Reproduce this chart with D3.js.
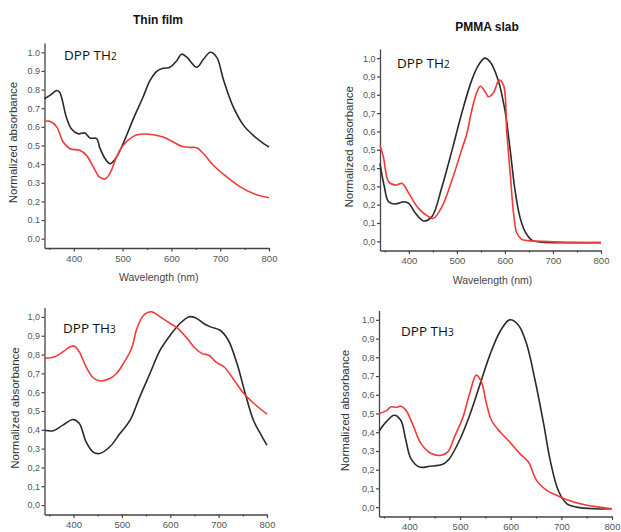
<!DOCTYPE html>
<html><head><meta charset="utf-8">
<script src="https://cdn.jsdelivr.net/npm/d3@7"></script>
<style>body{margin:0;background:#fff}svg{display:block}</style>
</head><body>
<script>
// ---- data ----
const panelTitles = ["Thin film", "PMMA slab"];
const compoundLabels = [["DPP TH", "2"], ["DPP TH", "2"], ["DPP TH", "3"], ["DPP TH", "3"]];
const yTickValues = [0,0.1,0.2,0.3,0.4,0.5,0.6,0.7,0.8,0.9,1.0];
const xMajorTicks = [400,500,600,700,800];
const xMinorTicks = [350,450,550,650,750];

// Thin film, DPP TH2 — [wavelength, abs]
const tfTH2Black = [[340,0.75],[352,0.77],[365,0.795],[371,0.786],[385,0.65],[395,0.59],[409,0.563],[423,0.567],[433,0.54],[447,0.537],[453,0.49],[464,0.43],[474,0.403],[484,0.424],[501,0.51],[522,0.643],[542,0.76],[556,0.848],[570,0.898],[583,0.914],[597,0.92],[611,0.955],[621,0.99],[632,0.973],[652,0.92],[666,0.964],[680,1.0],[693,0.973],[707,0.85],[727,0.706],[748,0.608],[768,0.554],[789,0.51],[800,0.492]];
const tfTH2Red = [[340,0.63],[351,0.63],[365,0.6],[378,0.52],[392,0.483],[412,0.474],[426,0.447],[440,0.385],[453,0.33],[464,0.32],[474,0.35],[488,0.44],[501,0.5],[522,0.549],[536,0.56],[563,0.558],[583,0.545],[604,0.519],[621,0.496],[638,0.49],[652,0.488],[666,0.456],[686,0.394],[714,0.33],[741,0.278],[768,0.242],[800,0.22]];
// PMMA slab, DPP TH2
const pmTH2Black = [[340,0.425],[349,0.298],[358,0.216],[372,0.204],[390,0.216],[400,0.207],[414,0.153],[431,0.111],[448,0.135],[469,0.298],[490,0.498],[510,0.698],[531,0.88],[545,0.962],[558,1.0],[569,0.98],[586,0.88],[600,0.716],[611,0.498],[621,0.28],[631,0.135],[642,0.053],[656,0.007],[677,-0.005],[747,-0.007],[800,-0.007]];
const pmTH2Red = [[340,0.525],[347,0.462],[358,0.325],[372,0.307],[386,0.316],[400,0.262],[420,0.18],[441,0.135],[451,0.125],[469,0.189],[490,0.335],[510,0.5],[521,0.59],[531,0.716],[542,0.816],[549,0.847],[559,0.816],[566,0.789],[576,0.811],[588,0.88],[597,0.853],[604,0.59],[611,0.371],[618,0.153],[625,0.044],[635,0.011],[649,0.004],[677,0.0],[747,-0.007],[800,-0.007]];
// Thin film, DPP TH3
const tfTH3Black = [[340,0.398],[358,0.395],[378,0.425],[399,0.455],[412,0.434],[426,0.336],[440,0.283],[454,0.274],[475,0.31],[496,0.38],[517,0.451],[537,0.575],[558,0.699],[579,0.823],[600,0.903],[620,0.965],[638,1.0],[652,0.996],[669,0.965],[683,0.947],[703,0.929],[720,0.876],[738,0.752],[755,0.593],[772,0.451],[790,0.363],[800,0.319]];
const tfTH3Red = [[340,0.78],[361,0.788],[378,0.814],[392,0.84],[402,0.844],[412,0.814],[426,0.735],[440,0.678],[454,0.66],[475,0.673],[489,0.699],[503,0.752],[520,0.832],[531,0.938],[545,1.009],[562,1.027],[579,1.0],[600,0.965],[614,0.943],[635,0.885],[652,0.832],[666,0.805],[680,0.796],[694,0.761],[711,0.735],[732,0.664],[752,0.593],[773,0.54],[800,0.483]];
// PMMA slab, DPP TH3
const pmTH3Black = [[340,0.405],[354,0.455],[370,0.491],[383,0.464],[393,0.357],[403,0.259],[420,0.214],[440,0.218],[466,0.229],[479,0.259],[499,0.357],[519,0.491],[539,0.652],[559,0.813],[579,0.938],[598,1.0],[615,0.973],[631,0.875],[648,0.679],[665,0.446],[678,0.25],[694,0.089],[711,0.018],[730,0.0],[764,-0.009],[800,-0.009]];
const pmTH3Red = [[340,0.5],[354,0.514],[364,0.536],[374,0.532],[383,0.539],[393,0.518],[406,0.446],[423,0.339],[443,0.286],[463,0.277],[476,0.295],[489,0.375],[506,0.482],[519,0.607],[532,0.705],[542,0.67],[552,0.554],[562,0.464],[579,0.402],[598,0.348],[618,0.286],[635,0.241],[651,0.143],[671,0.089],[691,0.063],[711,0.039],[737,0.018],[764,0.004],[800,-0.009]];

// ---- layout ----
const W = 621, H = 532;
const svg = d3.select("body").append("svg").attr("width", W).attr("height", H);

const panels = [
  {x0:44.5, x1:269, yb:248, yt:43, sep:".", black:tfTH2Black, red:tfTH2Red, xlabel:true, lab:compoundLabels[0], labX:64, labY:60, yl:13},
  {x0:380, x1:601, yb:250.5, yt:49, sep:",", black:pmTH2Black, red:pmTH2Red, xlabel:true, lab:compoundLabels[1], labX:397, labY:68, yl:349},
  {x0:44.5, x1:267, yb:514.5, yt:307.5, sep:",", black:tfTH3Black, red:tfTH3Red, xlabel:false, lab:compoundLabels[2], labX:63, labY:333, yl:15},
  {x0:379, x1:612, yb:516.5, yt:310.5, sep:",", black:pmTH3Black, red:pmTH3Red, xlabel:false, lab:compoundLabels[3], labX:401, labY:336, yl:345}
];

const axisColor = "#444", tickText = "#555";

panels.forEach((p, i) => {
  const x = d3.scaleLinear().domain([340, 800]).range([p.x0, p.x1]);
  const y = d3.scaleLinear().domain([-0.05, 1.05]).range([p.yb, p.yt]);
  const g = svg.append("g");

  // y axis
  const yAxis = d3.axisLeft(y).tickValues(yTickValues).tickSize(3).tickSizeOuter(0)
    .tickFormat(v => d3.format(".1f")(v).replace(".", p.sep));
  const ya = g.append("g").attr("transform", `translate(${p.x0},0)`).call(yAxis);
  ya.select(".domain").attr("stroke", axisColor).attr("stroke-width", 1.3);
  ya.selectAll(".tick line").attr("stroke", axisColor).attr("stroke-width", 1.2);
  ya.selectAll(".tick text").attr("fill", tickText).attr("font-family", "Liberation Sans, Arial, sans-serif").attr("font-size", 9).attr("x", -4.5);

  // x axis
  const xAxis = d3.axisBottom(x).tickValues(xMajorTicks).tickSize(3.5).tickSizeOuter(0).tickFormat(d3.format("d"));
  const xa = g.append("g").attr("transform", `translate(0,${p.yb})`).call(xAxis);
  xa.select(".domain").attr("stroke", axisColor).attr("stroke-width", 1.3);
  xa.selectAll(".tick line").attr("stroke", axisColor).attr("stroke-width", 1.2);
  xa.selectAll(".tick text").attr("fill", tickText).attr("font-family", "Liberation Sans, Arial, sans-serif").attr("font-size", 9.5).attr("y", 7);
  const xm = d3.axisBottom(x).tickValues(xMinorTicks).tickSize(2).tickFormat("");
  const xma = g.append("g").attr("transform", `translate(0,${p.yb})`).call(xm);
  xma.select(".domain").remove();
  xma.selectAll(".tick line").attr("stroke", axisColor).attr("stroke-width", 1.2);

  // y axis title
  g.append("text")
    .attr("transform", `translate(${p.yl},${(p.yt + p.yb) / 2 - 3}) rotate(-90)`)
    .attr("text-anchor", "middle").attr("dominant-baseline", "central")
    .attr("font-family", "Liberation Sans, Arial, sans-serif").attr("font-size", 11.5)
    .attr("fill", "#333").text("Normalized absorbance");

  if (p.xlabel) {
    g.append("text").attr("x", (p.x0 + p.x1) / 2 + 2).attr("y", p.yb + 33)
      .attr("text-anchor", "middle").attr("font-family", "Liberation Sans, Arial, sans-serif")
      .attr("font-size", 10.5).attr("fill", "#444").text("Wavelength (nm)");
  }

  const line = d3.line().x(d => x(d[0])).y(d => y(d[1])).curve(d3.curveCatmullRom.alpha(0.5));
  g.append("path").datum(p.black).attr("d", line).attr("fill", "none").attr("stroke", "#2a2a2a").attr("stroke-width", 1.6);
  g.append("path").datum(p.red).attr("d", line).attr("fill", "none").attr("stroke", "#f23a3a").attr("stroke-width", 1.6);

  const t = g.append("text").attr("x", p.labX).attr("y", p.labY)
    .attr("font-family", "Open Sans, Noto Sans, sans-serif").attr("font-size", 13.5).attr("fill", "#111");
  t.append("tspan").text(p.lab[0]);
  t.append("tspan").attr("font-size", 10).text(p.lab[1]);
});

// titles
svg.append("text").attr("x", 158).attr("y", 24).attr("text-anchor", "middle")
  .attr("font-family", "Liberation Sans, Arial, sans-serif").attr("font-weight", "bold").attr("font-size", 12)
  .attr("fill", "#111").text(panelTitles[0]);
svg.append("text").attr("x", 487).attr("y", 31).attr("text-anchor", "middle")
  .attr("font-family", "Liberation Sans, Arial, sans-serif").attr("font-weight", "bold").attr("font-size", 12)
  .attr("fill", "#111").text(panelTitles[1]);
</script>
</body></html>
